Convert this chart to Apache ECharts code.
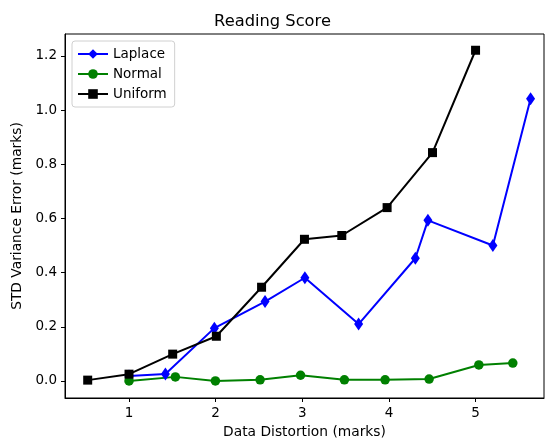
<!DOCTYPE html>
<html>
<head>
<meta charset="utf-8">
<script src="https://cdn.jsdelivr.net/npm/echarts@6/dist/echarts.min.js"></script>
<style>html,body{margin:0;padding:0;background:#fff;}#chart{width:545px;height:444px;}</style>
</head>
<body>
<div id="chart"></div>
<script>
const laplaceX = [1.0, 1.42, 1.985, 2.57, 3.03, 3.65, 4.305, 4.45, 5.2, 5.635];
const laplaceY = [0.018, 0.026, 0.195, 0.293, 0.381, 0.21, 0.453, 0.593, 0.5, 1.042];
const normalX = [1.0, 1.535, 1.997, 2.513, 2.98, 3.486, 3.956, 4.464, 5.038, 5.43];
const normalY = [0.0, 0.015, 0.0, 0.004, 0.021, 0.004, 0.004, 0.007, 0.059, 0.066];
const uniformX = [0.523, 1.0, 1.504, 2.008, 2.53, 3.025, 3.456, 3.979, 4.503, 5.0];
const uniformY = [0.003, 0.025, 0.099, 0.165, 0.346, 0.523, 0.537, 0.64, 0.843, 1.221];
const xTicks = [1, 2, 3, 4, 5];
const yTicks = [0, 0.2, 0.4, 0.6, 0.8, 1.0, 1.2];

const font = 'DejaVu Sans';
const zip = (xs, ys) => xs.map((x, i) => [x, ys[i]]);
const chart = echarts.init(document.getElementById('chart'), null, {renderer: 'canvas'});
chart.setOption({
  animation: false,
  backgroundColor: '#fff',
  textStyle: {fontFamily: font},
  title: {
    text: 'Reading Score', left: 'center', top: 9,
    textStyle: {fontFamily: font, fontSize: 16.3, fontWeight: 'normal', color: '#000'}
  },
  grid: {left: 65, right: 1, top: 34, bottom: 46, show: true, borderColor: '#000', borderWidth: 1, backgroundColor: 'transparent'},
  legend: {
    orient: 'vertical', left: 72, top: 41,
    backgroundColor: '#fff', borderColor: '#d0d0d0', borderWidth: 1, borderRadius: 3,
    padding: [6, 8, 6, 5], itemGap: 6, itemWidth: 30, itemHeight: 12,
    textStyle: {fontFamily: font, fontSize: 13.5, color: '#000'},
    data: ['Laplace', 'Normal', 'Uniform']
  },
  xAxis: {
    type: 'value', min: 0.261, max: 5.79,
    name: 'Data Distortion (marks)', nameLocation: 'middle', nameGap: 27,
    nameTextStyle: {fontFamily: font, fontSize: 13.8, color: '#000'},
    axisLine: {show: true, onZero: false, lineStyle: {color: '#000', width: 1}},
    axisTick: {show: true, length: 4, lineStyle: {color: '#000'}, customValues: xTicks},
    axisLabel: {fontFamily: font, fontSize: 13.5, color: '#000', margin: 8, customValues: xTicks, formatter: v => String(v)},
    splitLine: {show: false}
  },
  yAxis: {
    type: 'value', min: -0.063, max: 1.281,
    name: 'STD Variance Error (marks)', nameLocation: 'middle', nameGap: 41, nameRotate: 90,
    nameTextStyle: {fontFamily: font, fontSize: 13.8, color: '#000'},
    axisLine: {show: true, onZero: false, lineStyle: {color: '#000', width: 1}},
    axisTick: {show: true, length: 4, lineStyle: {color: '#000'}, customValues: yTicks},
    axisLabel: {fontFamily: font, fontSize: 13.5, color: '#000', margin: 8, customValues: yTicks, formatter: v => v.toFixed(1)},
    splitLine: {show: false}
  },
  series: [
    {name: 'Laplace', type: 'line', data: zip(laplaceX, laplaceY), symbol: 'diamond', symbolSize: [9, 13],
     itemStyle: {color: '#0000ff'}, lineStyle: {color: '#0000ff', width: 2}},
    {name: 'Normal', type: 'line', data: zip(normalX, normalY), symbol: 'circle', symbolSize: 9.5,
     itemStyle: {color: '#008000'}, lineStyle: {color: '#008000', width: 2}},
    {name: 'Uniform', type: 'line', data: zip(uniformX, uniformY), symbol: 'rect', symbolSize: 9,
     itemStyle: {color: '#000000'}, lineStyle: {color: '#000000', width: 2}}
  ]
});
</script>
</body>
</html>
